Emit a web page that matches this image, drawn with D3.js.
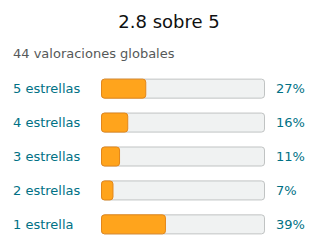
<!DOCTYPE html>
<html>
<head>
<meta charset="utf-8">
<script src="https://cdn.jsdelivr.net/npm/d3@7"></script>
<style>
  body { margin: 0; background: #fff; }
  svg { display: block; font-family: "DejaVu Sans", sans-serif; }
</style>
</head>
<body>
<svg id="chart"></svg>
<script>
// *** Data ***
var categories = ["5 estrellas", "4 estrellas", "3 estrellas", "2 estrellas", "1 estrella"];
var percents = [27, 16, 11, 7, 39];
var title = "2.8 sobre 5";
var subtitle = "44 valoraciones globales";

// *** Sizes ***
var svgWidth = 320, svgHeight = 252;
var barLeft = 101, barRight = 265, barHeight = 19;

var svg = d3.select("#chart")
    .attr("width", svgWidth)
    .attr("height", svgHeight);

// title + subtitle
svg.append("text")
    .attr("x", 169).attr("y", 28)
    .attr("text-anchor", "middle")
    .attr("font-size", 18)
    .attr("fill", "#0f1111")
    .text(title);

svg.append("text")
    .attr("x", 13).attr("y", 58)
    .attr("font-size", 13)
    .attr("fill", "#565959")
    .text(subtitle);

// *** Scales ***
var xScale = d3.scaleLinear()
    .domain([0, 100])
    .range([0, barRight - barLeft]);

var yScale = d3.scaleBand()
    .domain(categories)
    .range([72, 241])
    .paddingInner(0.42)
    .paddingOuter(0.2);

var rows = svg.selectAll("g.row")
    .data(categories)
    .enter()
    .append("g")
    .attr("class", "row")
    .attr("transform", function (d) {
        return "translate(0," + (yScale(d) + yScale.bandwidth() / 2) + ")";
    });

// background track
rows.append("rect")
    .attr("x", barLeft + 0.5)
    .attr("y", -barHeight / 2)
    .attr("width", xScale(100) - 1)
    .attr("height", barHeight)
    .attr("rx", 3)
    .attr("fill", "#f0f2f2")
    .attr("stroke", "#c0c3c3")
    .attr("stroke-width", 1);

// filled part
rows.append("rect")
    .attr("x", barLeft + 0.5)
    .attr("y", -barHeight / 2)
    .attr("width", function (d, i) { return xScale(percents[i]); })
    .attr("height", barHeight)
    .attr("rx", 3)
    .attr("fill", "#ffa41c")
    .attr("stroke", "#e3871a")
    .attr("stroke-width", 1);

// left labels
rows.append("text")
    .attr("x", 13)
    .attr("dy", "0.35em")
    .attr("font-size", 13)
    .attr("fill", "#007185")
    .text(function (d) { return d; });

// percent labels
rows.append("text")
    .attr("x", 276)
    .attr("dy", "0.35em")
    .attr("font-size", 13)
    .attr("fill", "#007185")
    .text(function (d, i) { return percents[i] + "%"; });
</script>
</body>
</html>
